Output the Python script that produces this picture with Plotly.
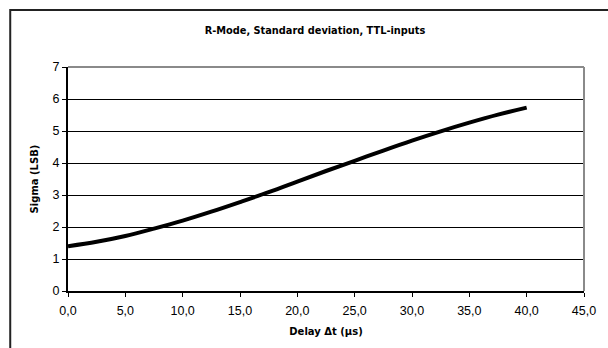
import plotly.graph_objects as go

# Delay Δt in µs and measured standard deviation in LSB
delay_us = [0.0, 2.5, 5.0, 7.5, 10.0, 12.5, 15.0, 17.5, 20.0, 22.5,
            25.0, 27.5, 30.0, 32.5, 35.0, 37.5, 40.0]
sigma_lsb = [1.40, 1.54, 1.72, 1.95, 2.20, 2.48, 2.78, 3.09, 3.42, 3.75,
             4.07, 4.39, 4.70, 4.99, 5.26, 5.51, 5.73]

x_ticks = [0, 5, 10, 15, 20, 25, 30, 35, 40, 45]
y_ticks = [0, 1, 2, 3, 4, 5, 6, 7]

title_text = "R-Mode, Standard deviation, TTL-inputs"
x_title = "Delay Δt (µs)"
y_title = "Sigma (LSB)"

bold_font = "DejaVu Sans"
tick_font = "Liberation Sans, Arial"

fig = go.Figure()
fig.add_trace(go.Scatter(
    x=delay_us, y=sigma_lsb, mode="lines",
    line=dict(color="black", width=4, shape="spline", smoothing=1.0),
    hoverinfo="skip", showlegend=False,
))

fig.update_layout(
    width=608, height=348,
    margin=dict(l=68, r=13, t=67, b=57),
    paper_bgcolor="white", plot_bgcolor="white",
    separators=",.",
    title=dict(text="<b>" + title_text + "</b>", x=315 / 608, xanchor="center",
               y=1 - 31 / 348, yanchor="middle",
               font=dict(family=bold_font, size=9.8, color="black")),
    xaxis=dict(
        range=[0, 45], tickvals=x_ticks, tickformat=".1f",
        showgrid=False, zeroline=False,
        showline=True, linecolor="black", linewidth=1.5,
        ticks="outside", ticklen=4, tickcolor="black", tickwidth=1,
        ticklabelstandoff=3,
        tickfont=dict(family=tick_font, size=12.5, color="black"),
        title=dict(text="<b>" + x_title + "</b>", standoff=11,
                   font=dict(family=bold_font, size=10, color="black")),
        fixedrange=True,
    ),
    yaxis=dict(
        range=[0, 7], tickvals=y_ticks, tickformat="d",
        showgrid=True, gridcolor="black", gridwidth=1, zeroline=False,
        showline=True, linecolor="black", linewidth=2,
        ticks="outside", ticklen=4, tickcolor="black", tickwidth=1,
        tickfont=dict(family=tick_font, size=12.5, color="black"),
        title=dict(text="<b>" + y_title + "</b>", standoff=12,
                   font=dict(family=bold_font, size=10, color="black")),
        fixedrange=True,
    ),
    shapes=[
        # plot-area border on top and right
        dict(type="line", xref="paper", yref="paper", x0=0, x1=1, y0=1, y1=1,
             line=dict(color="#8a8a8a", width=2), layer="above"),
        dict(type="line", xref="paper", yref="paper", x0=1, x1=1, y0=0, y1=1,
             line=dict(color="#8a8a8a", width=2), layer="above"),
        # chart frame
        dict(type="rect", xref="paper", yref="paper",
             x0=(9 - 68) / 527, x1=(640 - 68) / 527,
             y0=(291 - 380) / 224, y1=(291 - 10) / 224,
             line=dict(color="#222222", width=2), layer="above"),
    ],
)

fig.write_html("out.html")
